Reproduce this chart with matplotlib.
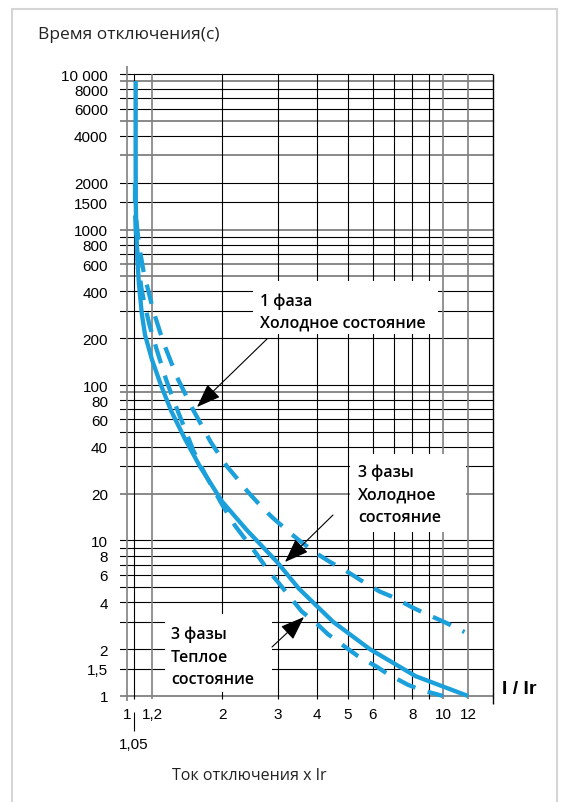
import matplotlib
matplotlib.use("Agg")
import matplotlib.pyplot as plt
from matplotlib import font_manager
from matplotlib.patches import Rectangle

# ---------------- data ----------------
cold3_x = [1.065, 1.065, 1.066, 1.07, 1.078, 1.09, 1.113, 1.14, 1.2, 1.28, 1.38, 1.525, 1.70, 2.0, 2.4, 2.98, 3.5, 4.49, 5.87, 8.2, 12.0]
cold3_y = [9000, 3000, 1500, 1000, 650, 450, 290, 210, 145, 100, 68, 45, 30, 17.8, 11.6, 7.3, 4.9, 3.0, 2.0, 1.34, 1.0]

warm3_x = [1.06, 1.06, 1.068, 1.085, 1.11, 1.14, 1.18, 1.24, 1.33, 1.42, 1.52, 1.62, 1.77, 2.0, 2.2, 2.57, 2.8, 3.01, 3.57, 4.0, 4.32, 4.9, 5.37, 6.18, 6.7, 7.75, 8.56, 10.0]
warm3_y = [2000, 1300, 900, 600, 420, 320, 240, 170, 108, 75, 53, 38, 26.5, 17, 12.4, 8.2, 6.4, 5.38, 3.5, 2.9, 2.5, 2.07, 1.81, 1.54, 1.38, 1.18, 1.09, 1.0]

cold1_x = [1.07, 1.09, 1.129, 1.211, 1.303, 1.44, 1.62, 1.84, 2.07, 2.24, 2.4, 2.67, 2.88, 3.23, 3.53, 4.0, 4.38, 5.0, 5.53, 6.3, 6.94, 7.96, 8.76, 10.1, 11.7]
cold1_y = [1150, 800, 531, 300, 188, 112, 69, 43, 30, 24.8, 20.8, 16.4, 14.1, 11.5, 9.9, 8.2, 7.3, 6.27, 5.5, 4.7, 4.33, 3.73, 3.4, 2.99, 2.58]

y_tick_vals = [10000, 8000, 6000, 4000, 2000, 1500, 1000, 800, 600, 400, 200, 100, 80, 60, 40, 20, 10, 8, 6, 4, 2, 1.5, 1]
y_tick_labels = ["10 000", "8000", "6000", "4000", "2000", "1500", "1000", "800", "600", "400", "200",
                 "100", "80", "60", "40", "20", "10", "8", "6", "4", "2", "1,5", "1"]
x_tick_vals = [1, 1.2, 2, 3, 4, 5, 6, 8, 10, 12]
x_tick_labels = ["1", "1,2", "2", "3", "4", "5", "6", "8", "10", "12"]

h_black = [10000, 8000, 7000, 6000, 4000, 2000, 1500, 900, 800, 700, 400, 300, 200, 100, 80, 70, 60, 50, 40, 30,
           10, 9, 8, 7, 6, 5, 4, 3, 2, 1.5]
h_gray = [9000, 5000, 3000, 1000, 600, 500, 90, 20, 1]
v_black = [1.05, 2, 3, 4, 5, 6, 7, 8, 9]
v_gray = [1.2, 10, 12]

title = "Время отключения(с)"
xlabel = "Ток отключения x Ir"
axis_unit = "I / Ir"

# ---------------- fonts ----------------
avail = {f.name for f in font_manager.fontManager.ttflist}
has_narrow = "Liberation Sans Narrow" in avail
num_font = "Liberation Sans Narrow" if has_narrow else "Liberation Sans"
num_size = 12.5 if has_narrow else 11
txt_font = "Open Sans" if "Open Sans" in avail else "DejaVu Sans"

W, H = 565, 803
fig = plt.figure(figsize=(W / 100, H / 100), dpi=100)
ax = fig.add_axes([120 / W, (H - 705) / H, 373 / W, 640 / H])
ax.set_xscale("log")
ax.set_yscale("log")
XMIN, XMAX = 0.95, 14.4
YMIN, YMAX = 0.888, 11600
ax.set_xlim(XMIN, XMAX)
ax.set_ylim(YMIN, YMAX)
for s in ax.spines.values():
    s.set_visible(False)
ax.patch.set_alpha(0)

# grid
for v in h_black:
    ax.axhline(v, color="black", lw=0.8, zorder=1)
for v in h_gray:
    ax.axhline(v, color="#808080", lw=1.3, zorder=1)
ax.vlines(v_black, 0.95, 10000, color="black", lw=0.8, zorder=1)
ax.vlines(v_gray, 0.95, 10000, color="#808080", lw=1.2, zorder=1)
ax.vlines([1], 0.93, 11200, color="#808080", lw=1.2, zorder=1)
ax.vlines([XMAX], YMIN, 10000, color="black", lw=1.0, zorder=1, clip_on=False)

# white label boxes hiding the grid (figure pixel coordinates)
def fig_rect(x0, y0, x1, y1):
    r = Rectangle((x0 / W, 1 - y1 / H), (x1 - x0) / W, (y1 - y0) / H, transform=fig.transFigure,
                  facecolor="white", edgecolor="none", zorder=2)
    ax.add_artist(r)

fig_rect(253, 282, 438, 335)
fig_rect(350, 455, 466, 533)
fig_rect(165, 615, 272, 693)

# curves
col = "#1ba0db"
ax.plot(cold3_x, cold3_y, color=col, lw=3.1, solid_capstyle="butt", solid_joinstyle="round", zorder=3)
ax.plot(warm3_x, warm3_y, color=col, lw=3.1, dashes=(4.6, 3.0), dash_capstyle="butt", zorder=3)
ax.plot(cold1_x, cold1_y, color=col, lw=3.1, dashes=(4.6, 3.0), dash_capstyle="butt", zorder=3)

# ticks
ax.set_yticks(y_tick_vals, y_tick_labels)
ax.set_xticks(x_tick_vals, x_tick_labels)
ax.minorticks_off()
ax.tick_params(axis="y", length=0, pad=8.6, labelsize=num_size)
ax.tick_params(axis="x", length=0, pad=2.2, labelsize=num_size)
for lab in ax.get_xticklabels() + ax.get_yticklabels():
    lab.set_fontfamily(num_font)

# 1,05 extra tick
ax.vlines([1.05], 0.596, 0.789, color="black", lw=0.8, clip_on=False)
fig.text(134 / W, 1 - 745 / H, "1,05", ha="center", va="center", fontsize=num_size, family=num_font)

# texts
fig.text(38 / W, 1 - 35 / H, title, ha="left", va="center", fontsize=12.5, family=txt_font, color="#222222")
fig.text(172 / W, 1 - 776 / H, xlabel, ha="left", va="center", fontsize=11.5, family=txt_font, color="#222222")
fig.text(502 / W, 1 - 690 / H, axis_unit, ha="left", va="center", fontsize=14, family=num_font, weight="bold")

def ann_line(px, py, s):
    fig.text(px / W, 1 - py / H, s, ha="left", va="center", fontsize=11.5, family=txt_font, weight="semibold",
             zorder=5)

ann_line(260, 302, "1 фаза")
ann_line(260, 324, "Холодное состояние")
ann_line(358, 473, "3 фазы")
ann_line(358, 496, "Холодное")
ann_line(358, 518, "состояние")
ann_line(171, 635, "3 фазы")
ann_line(171, 658, "Теплое")
ann_line(171, 680, "состояние")

# arrows (figure pixels, from bottom)
def arrow(x0, y0, x1, y1):
    ax.annotate("", xy=(x1, H - y1), xycoords="figure pixels", xytext=(x0, H - y0), textcoords="figure pixels",
                arrowprops=dict(arrowstyle="-|>,head_length=0.75,head_width=0.28", mutation_scale=20,
                                color="black", lw=0.8, shrinkA=0, shrinkB=0), zorder=6)

arrow(267, 340, 197, 408)
arrow(333, 516, 285, 563)
arrow(272, 648, 304, 618)

# outer frame
frame = Rectangle((12 / W, -0.01), (557 - 12) / W, 1 - 10 / H + 0.01, transform=fig.transFigure,
                  facecolor="none", edgecolor="#d5d5d5", lw=1.5)
fig.patches.append(frame)

fig.savefig("out.png", dpi=100)
